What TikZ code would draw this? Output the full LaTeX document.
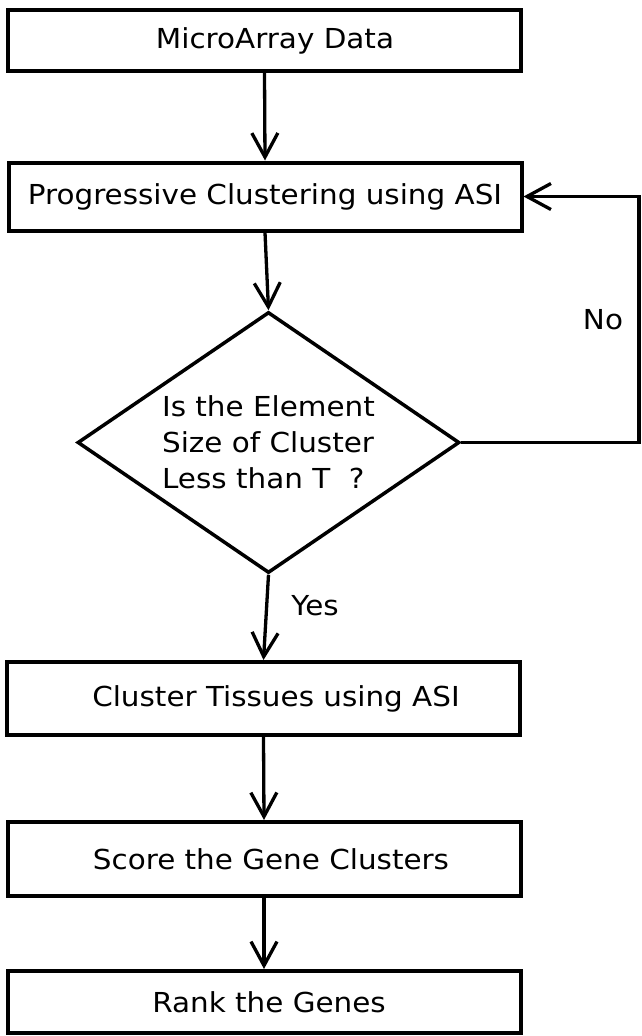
\documentclass[tikz,border=0pt]{standalone}
\usepackage{fontspec}
\setmainfont[FakeStretch=1.07]{DejaVu Sans}
\usetikzlibrary{shapes.geometric,arrows.meta}
\begin{document}
\begin{tikzpicture}[x=1pt,y=-1pt,
  txt/.style={font=\fontsize{27.5}{36}\selectfont},
  box/.style={draw,line width=4pt,minimum width=513pt,inner sep=0pt,txt},
  dec/.style={draw,diamond,shape aspect=1.46,line width=3.5pt,minimum width=382pt,minimum height=261pt,inner sep=0pt,align=left,txt},
  flow/.style={line width=3.3pt,-{Straight Barb[length=24pt,width=26pt,line width=3.3pt]}},
  lbl/.style={inner sep=0pt,txt}]
\useasboundingbox (0,0) rectangle (641,1036);
\fill[white] (0,0) rectangle (641,1036);
\node[box,minimum height=61pt] (b1) at (264.5,40.5) {\hspace*{21pt}\raisebox{3pt}{MicroArray Data}};
\node[box,minimum height=68pt] (b2) at (265,196.5) {Progressive Clustering using ASI};
\node[dec] (d) at (268.5,442.5) {Is the Element\\Size of Cluster\\Less than T~~?};
\node[box,minimum height=73pt] (b3) at (263.5,698.5) {\hspace*{25pt}Cluster Tissues using ASI};
\node[box,minimum height=74pt] (b4) at (264,859) {\hspace*{14pt}Score the Gene Clusters};
\node[box,minimum height=62pt] (b5) at (264,1002) {\hspace*{10pt}Rank the Genes};
\coordinate (c1) at (639,442.5);
\coordinate (c2) at (639,196.5);
\draw[flow] (b1.south) -- (b2.north);
\draw[flow] (b2.south) -- (d.north);
\draw[flow] (d.south) -- (b3.north);
\draw[flow] (b3.south) -- (b4.north);
\draw[flow] (b4.south) -- (b5.north);
\draw[flow] (d.east) -- (c1) -- (c2) -- (b2.east);
\node[lbl] (no) at (603,320) {No};
\node[lbl] (yes) at (315,606) {Yes};
\end{tikzpicture}
\end{document}
